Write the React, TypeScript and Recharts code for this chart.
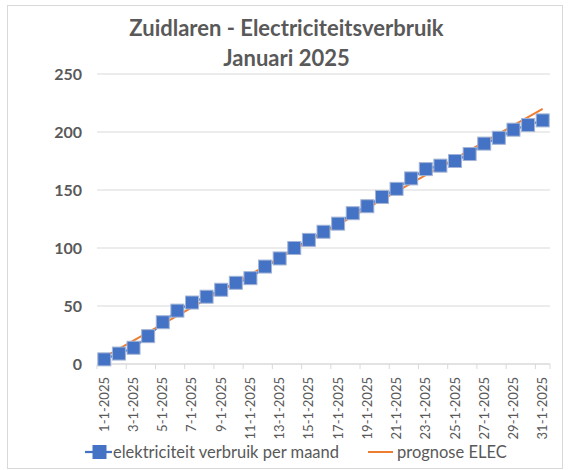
import { CartesianGrid, Legend, Line, LineChart, XAxis, YAxis } from "recharts";

const DAYS = [
  "1-1-2025", "2-1-2025", "3-1-2025", "4-1-2025", "5-1-2025", "6-1-2025",
  "7-1-2025", "8-1-2025", "9-1-2025", "10-1-2025", "11-1-2025", "12-1-2025",
  "13-1-2025", "14-1-2025", "15-1-2025", "16-1-2025", "17-1-2025", "18-1-2025",
  "19-1-2025", "20-1-2025", "21-1-2025", "22-1-2025", "23-1-2025", "24-1-2025",
  "25-1-2025", "26-1-2025", "27-1-2025", "28-1-2025", "29-1-2025", "30-1-2025",
  "31-1-2025",
];

const VERBRUIK = [
  4, 9, 14, 24, 36, 46, 53, 58, 64, 70, 74, 84, 91, 100, 107, 114, 121, 130,
  136, 144, 151, 160, 168, 171, 175, 181, 190, 195, 202, 206, 210,
];

// trendline: only the two end points, connected
const PROGNOSE_START = 6;
const PROGNOSE_END = 220;

const Y_TICKS = [0, 50, 100, 150, 200, 250];

const GREY = "#595959";
const BLUE = "#4472C4";
const ORANGE = "#ED7D31";
const FONT = "Lato, 'Open Sans', sans-serif";

const data = DAYS.map((day, i) => ({
  day,
  verbruik: VERBRUIK[i],
  prognose: i === 0 ? PROGNOSE_START : i === DAYS.length - 1 ? PROGNOSE_END : null,
}));

const PLOT_LEFT = 97;
const PLOT_RIGHT = 550;
const BAND = (PLOT_RIGHT - PLOT_LEFT) / DAYS.length;

function DayTick({ x, y, payload }: any) {
  const last = payload.value === DAYS[DAYS.length - 1];
  return (
    <g>
      <line x1={x - BAND / 2} x2={x - BAND / 2} y1={y} y2={y + 5} stroke="#d9d9d9" />
      {last && <line x1={x + BAND / 2} x2={x + BAND / 2} y1={y} y2={y + 5} stroke="#d9d9d9" />}
      <text
        x={0}
        y={0}
        transform={`translate(${x + 4.5},${y + 13}) rotate(-90)`}
        textAnchor="end"
        fill={GREY}
        fontSize={13}
        fontFamily={FONT}
      >
        {payload.value}
      </text>
    </g>
  );
}

function SquareDot({ cx, cy }: any) {
  if (cx == null || cy == null) return null;
  return (
    <rect x={cx - 6.5} y={cy - 6.5} width={13} height={13} fill={BLUE} stroke="#a3b4d6" strokeWidth={1} />
  );
}

function ChartLegend() {
  return (
    <svg width={460} height={24} style={{ display: "block" }}>
      <line x1={5} x2={32} y1={12} y2={12} stroke={BLUE} strokeWidth={2.25} />
      <rect x={12.5} y={5} width={14} height={14} fill={BLUE} />
      <text x={33} y={17.5} fill={GREY} fontSize={16.5} fontFamily={FONT}>
        elektriciteit verbruik per maand
      </text>
      <line x1={288} x2={313} y1={12} y2={12} stroke={ORANGE} strokeWidth={2} />
      <text x={317} y={17.5} fill={GREY} fontSize={16.5} fontFamily={FONT}>
        prognose ELEC
      </text>
    </svg>
  );
}

export default function App() {
  return (
    <div style={{ position: "absolute", left: 0, top: 0, width: 568, height: 470, background: "#fff" }}>
      <div
        style={{
          position: "absolute",
          left: 7,
          top: 5,
          width: 554,
          height: 462,
          border: "1px solid #d9d9d9",
        }}
      />
      <div
        style={{
          position: "absolute",
          left: 0,
          top: 13,
          width: 573,
          textAlign: "center",
          color: GREY,
          fontFamily: FONT,
          fontWeight: 700,
          fontSize: 22,
          lineHeight: "30px",
        }}
      >
        Zuidlaren - Electriciteitsverbruik
        <br />
        Januari 2025
      </div>
      <LineChart
        width={568}
        height={470}
        data={data}
        margin={{ top: 74, right: 568 - PLOT_RIGHT, left: 0, bottom: 26 }}
      >
        <CartesianGrid vertical={false} stroke="#d9d9d9" />
        <XAxis
          dataKey="day"
          scale="band"
          interval={1}
          height={80}
          stroke="#d9d9d9"
          tickLine={false}
          tickSize={0}
          tickMargin={0}
          tick={<DayTick />}
        />
        <YAxis
          width={PLOT_LEFT}
          domain={[0, 250]}
          ticks={Y_TICKS}
          axisLine={false}
          tickLine={false}
          tickMargin={9}
          tick={{ fill: GREY, fontSize: 16, fontWeight: 700, fontFamily: FONT }}
        />
        <Legend
          layout="horizontal"
          verticalAlign="middle"
          wrapperStyle={{ position: "absolute", top: 440, left: 80, width: 460 }}
          content={() => <ChartLegend />}
        />
        <Line
          dataKey="verbruik"
          stroke={BLUE}
          strokeWidth={2.25}
          dot={<SquareDot />}
          activeDot={false}
          isAnimationActive={false}
        />
        <Line
          dataKey="prognose"
          stroke={ORANGE}
          strokeWidth={2}
          dot={false}
          activeDot={false}
          connectNulls
          isAnimationActive={false}
        />
      </LineChart>
    </div>
  );
}
